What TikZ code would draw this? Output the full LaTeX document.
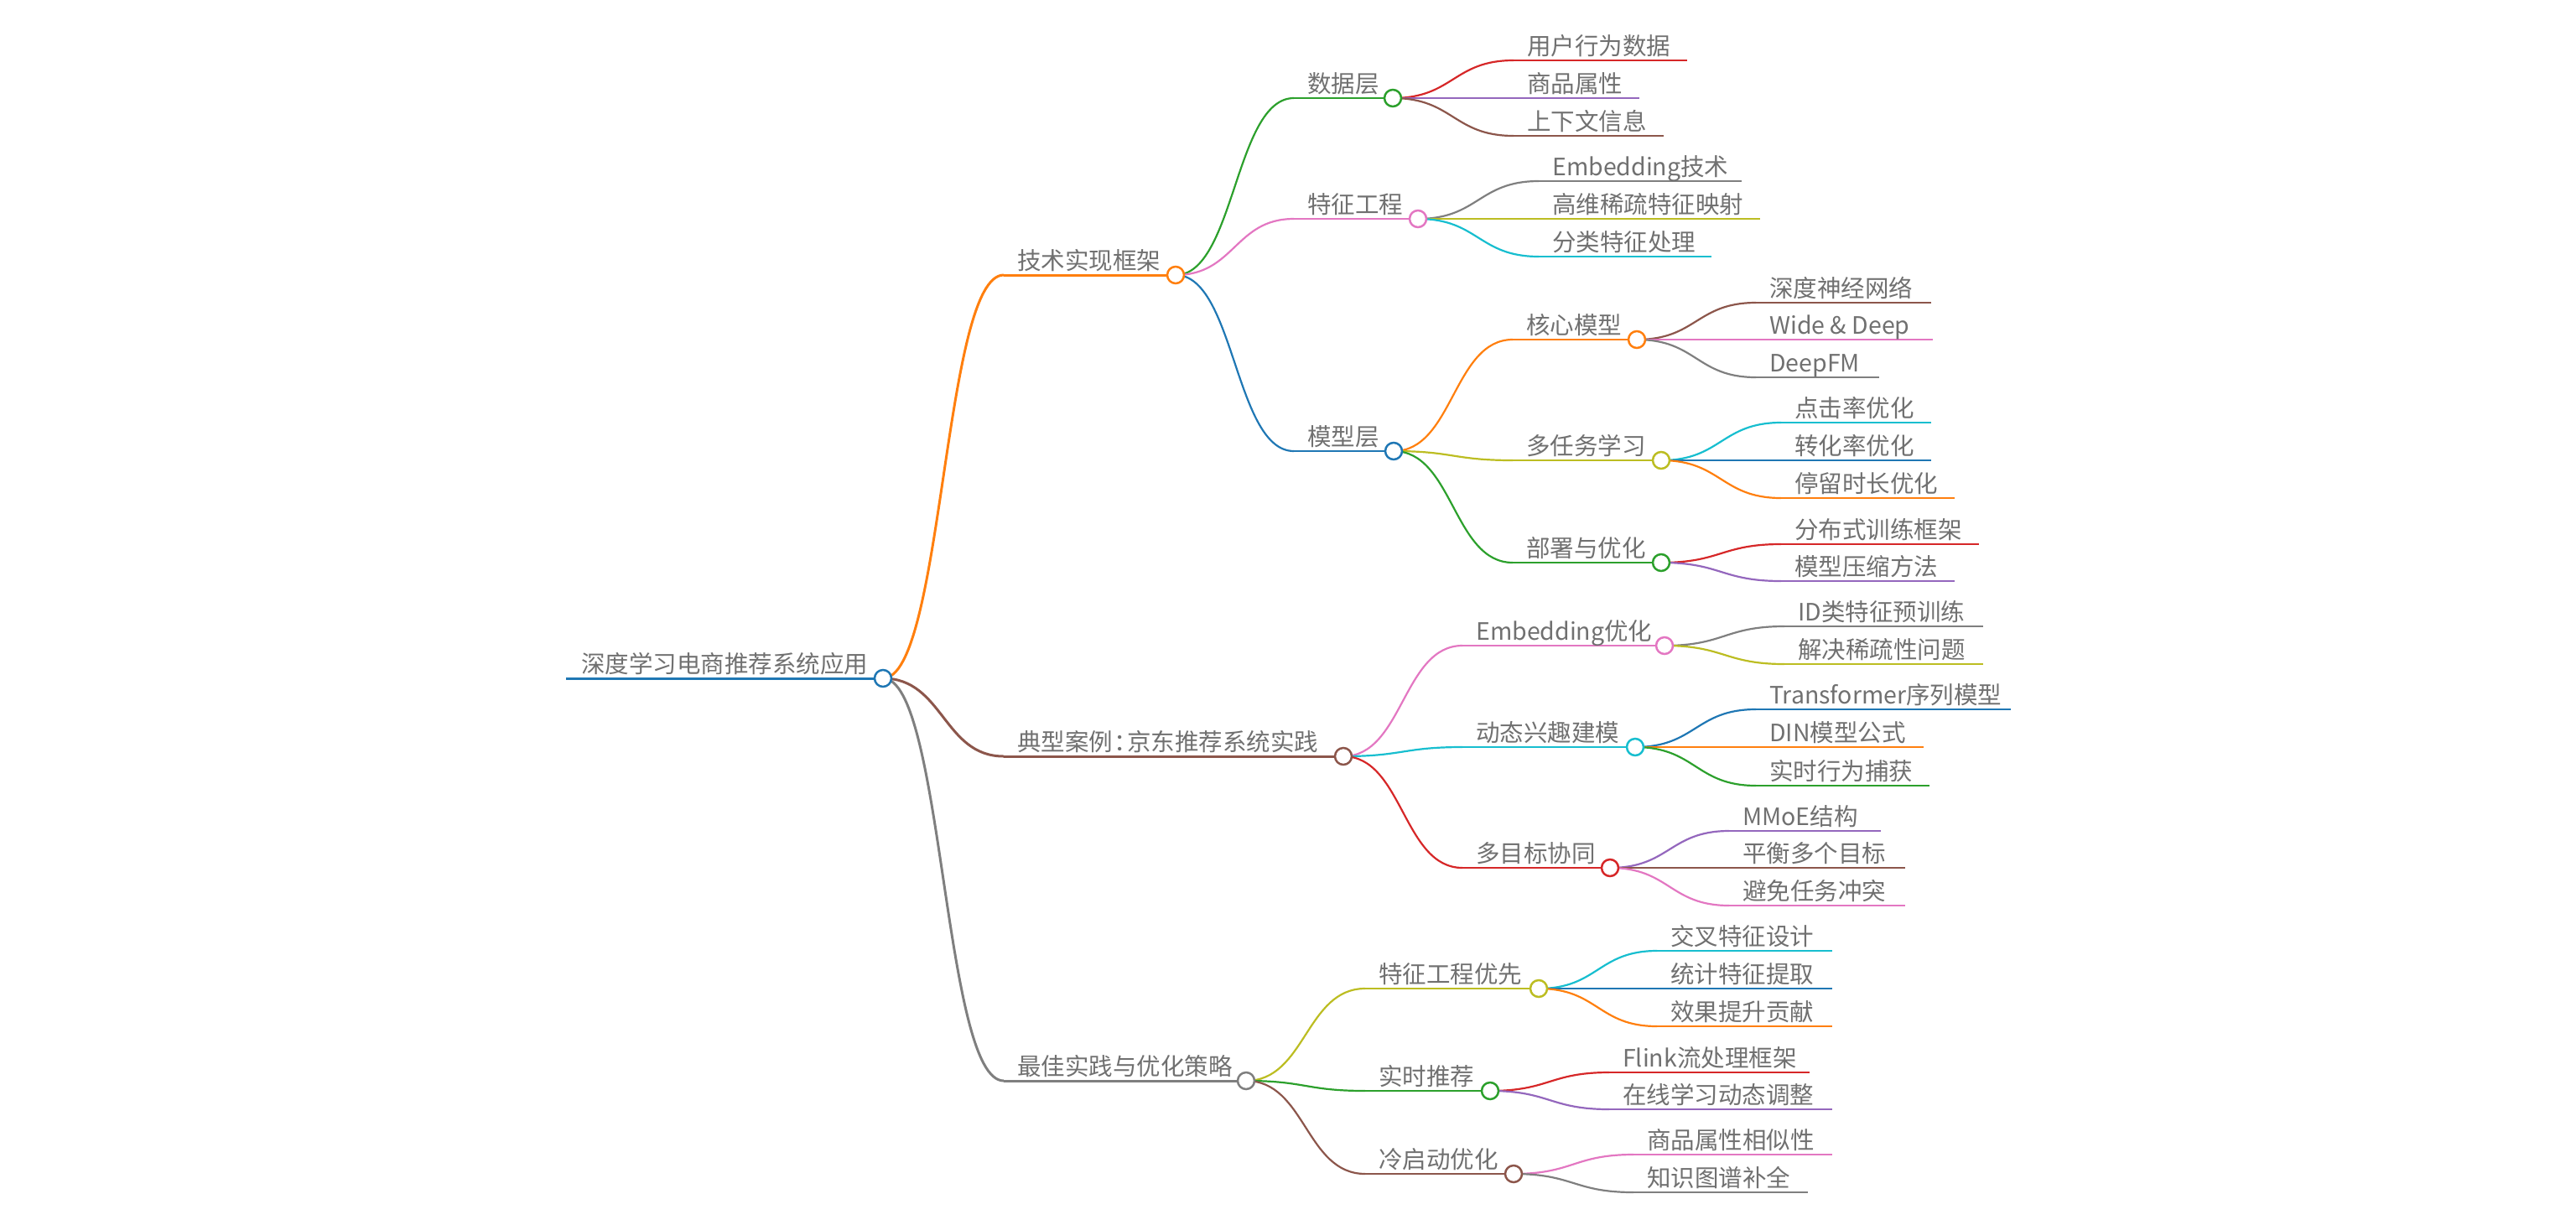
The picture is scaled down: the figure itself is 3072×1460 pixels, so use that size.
\documentclass[tikz,border=0pt]{standalone}
\usepackage{fontspec}
\setmainfont{Noto Sans CJK SC}
\usetikzlibrary{calc}

\definecolor{mblue}{HTML}{1F77B4}
\definecolor{morange}{HTML}{FF7F0E}
\definecolor{mgreen}{HTML}{2CA02C}
\definecolor{mred}{HTML}{D62728}
\definecolor{mpurple}{HTML}{9467BD}
\definecolor{mbrown}{HTML}{8C564B}
\definecolor{mpink}{HTML}{E377C2}
\definecolor{mgray}{HTML}{7F7F7F}
\definecolor{molive}{HTML}{BCBD22}
\definecolor{mcyan}{HTML}{17BECF}
\definecolor{txtgray}{HTML}{707070}

\tikzset{
	branchline/.style={line width=2.2pt},
	branchlink/.style={line width=2.2pt, to path={let \p1=(\tikztostart), \p2=(\tikztotarget) in
		.. controls ({(\x1+\x2)/2},\y1) and ({(\x1+\x2)/2},\y2) .. (\tikztotarget)}},
	branchdot/.style={line width=2.5pt},
	branchtext/.style={anchor=base west, inner sep=0pt, text=txtgray, font=\fontsize{28.5}{34}\selectfont},
}
% topic: name, parent, colour, line start x, line end x, line y, text
\def\topic(#1)(#2)[#3](#4:#5:#6)#7{
	\coordinate (#1-s) at (#4,#6);
	\coordinate (#1-e) at (#5,#6);
	\draw[branchlink,#3] (#2-e) to (#1-s);
	\draw[branchline,#3] (#1-s) -- (#1-e);
	\node[branchtext] (#1) at (#4+16,#6-7) {#7};
}
\def\knot(#1)[#2]{\draw[branchdot,draw=#2,fill=white] (#1-e) circle[radius=10pt];}

\begin{document}
\begin{tikzpicture}[x=1pt,y=-1pt]
			%%%%% START %%%%%
			\useasboundingbox (0,0) rectangle (3072,1460);
			
			\coordinate (root-s) at (675,809);
			\coordinate (root-e) at (1053,809);
			\draw[branchline,mblue,line width=3pt] (root-s) -- (root-e);
			\node[branchtext] (root) at (693,802) {深度学习电商推荐系统应用};
			
			\topic(tech)(root)[morange,line width=3pt](1197:1402:328){技术实现框架}
			\topic(case)(root)[mbrown,line width=3pt](1197:1602:902){典型案例\hbox to .6em{\kern.06em：\hss}京东推荐系统实践}
			\topic(best)(root)[mgray,line width=3pt](1197:1486:1289){最佳实践与优化策略}
			
			\topic(data)(tech)[mgreen](1543:1661:117){数据层}
			\topic(feat)(tech)[mpink](1543:1691:261){特征工程}
			\topic(model)(tech)[mblue](1543:1662:538){模型层}
			
			\topic(user)(data)[mred](1805:2012:72){用户行为数据}
			\topic(item)(data)[mpurple](1805:1955:117){商品属性}
			\topic(ctx)(data)[mbrown](1805:1984:162){上下文信息}
			
			\topic(emb)(feat)[mgray](1835:2077:216){Embedding技术}
			\topic(sparse)(feat)[molive](1835:2099:261){高维稀疏特征映射}
			\topic(cat)(feat)[mcyan](1835:2041:306){分类特征处理}
			
			\topic(core)(model)[morange](1804:1952:405){核心模型}
			\topic(mtl)(model)[molive](1804:1981:549){多任务学习}
			\topic(deploy)(model)[mgreen](1804:1981:671){部署与优化}
			
			\topic(dnn)(core)[mbrown](2094:2303:361){深度神经网络}
			\topic(wd)(core)[mpink](2094:2305:405){Wide \& Deep}
			\topic(dfm)(core)[mgray](2094:2241:450){DeepFM}
			
			\topic(ctr)(mtl)[mcyan](2124:2303:504){点击率优化}
			\topic(cvr)(mtl)[mblue](2124:2303:549){转化率优化}
			\topic(dwell)(mtl)[morange](2124:2331:594){停留时长优化}
			
			\topic(dist)(deploy)[mred](2124:2360:649){分布式训练框架}
			\topic(comp)(deploy)[mpurple](2124:2331:693){模型压缩方法}
			
			\topic(embopt)(case)[mpink](1744:1985:770){Embedding优化}
			\topic(dyn)(case)[mcyan](1744:1950:891){动态兴趣建模}
			\topic(multi)(case)[mred](1744:1920:1035){多目标协同}
			
			\topic(idpre)(embopt)[mgray](2128:2365:747){ID类特征预训练}
			\topic(fix)(embopt)[molive](2128:2365:792){解决稀疏性问题}
			
			\topic(trans)(dyn)[mblue](2094:2398:846){Transformer序列模型}
			\topic(din)(dyn)[morange](2094:2294:891){DIN模型公式}
			\topic(live)(dyn)[mgreen](2094:2301:937){实时行为捕获}
			
			\topic(mmoe)(multi)[mpurple](2062:2243:991){MMoE结构}
			\topic(bal)(multi)[mbrown](2062:2272:1035){平衡多个目标}
			\topic(avoid)(multi)[mpink](2062:2272:1080){避免任务冲突}
			
			\topic(ffirst)(best)[molive](1628:1835:1179){特征工程优先}
			\topic(rtrec)(best)[mgreen](1628:1777:1301){实时推荐}
			\topic(cold)(best)[mbrown](1628:1805:1400){冷启动优化}
			
			\topic(cross)(ffirst)[mcyan](1976:2185:1134){交叉特征设计}
			\topic(stat)(ffirst)[mblue](1976:2185:1179){统计特征提取}
			\topic(gain)(ffirst)[morange](1976:2185:1224){效果提升贡献}
			
			\topic(flink)(rtrec)[mred](1919:2158:1279){Flink流处理框架}
			\topic(online)(rtrec)[mpurple](1919:2185:1323){在线学习动态调整}
			
			\topic(sim)(cold)[mpink](1948:2185:1377){商品属性相似性}
			\topic(kg)(cold)[mgray](1948:2156:1422){知识图谱补全}
			
			% circles on top of the lines
			\knot(root)[mblue]
			\knot(tech)[morange]
			\knot(case)[mbrown]
			\knot(best)[mgray]
			\knot(data)[mgreen]
			\knot(feat)[mpink]
			\knot(model)[mblue]
			\knot(core)[morange]
			\knot(mtl)[molive]
			\knot(deploy)[mgreen]
			\knot(embopt)[mpink]
			\knot(dyn)[mcyan]
			\knot(multi)[mred]
			\knot(ffirst)[molive]
			\knot(rtrec)[mgreen]
			\knot(cold)[mbrown]
			
			%%%%% END %%%%%
\end{tikzpicture}
\end{document}
